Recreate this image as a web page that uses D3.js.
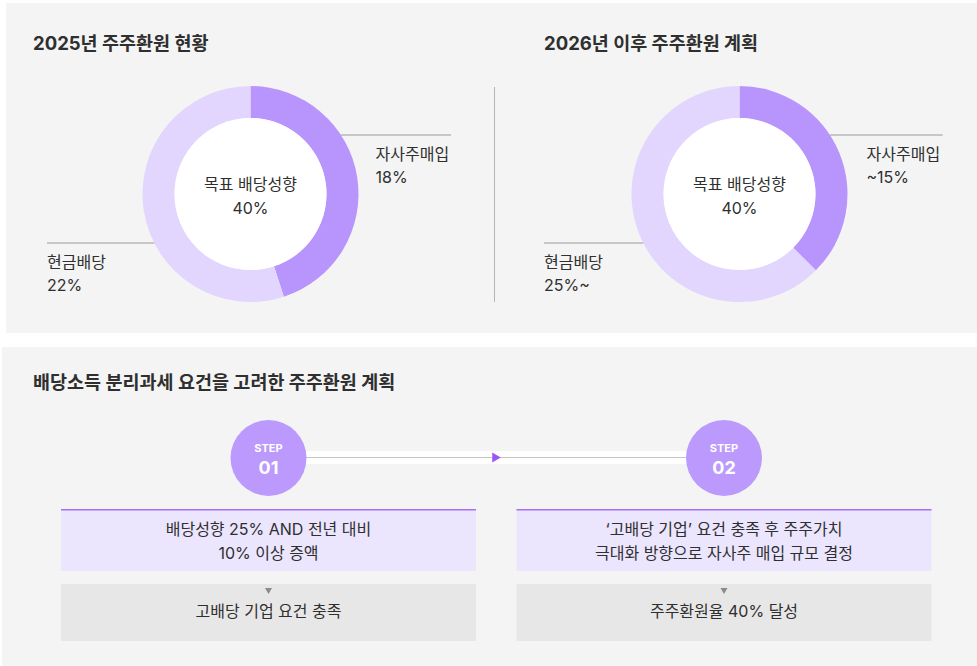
<!DOCTYPE html>
<html lang="ko">
<head>
<meta charset="utf-8">
<script src="https://cdn.jsdelivr.net/npm/d3@7"></script>
<style>
  html, body { margin: 0; padding: 0; background: #ffffff; }
  svg { display: block; font-family: Inter, "Noto Sans CJK KR", "Noto Sans", sans-serif; }
</style>
</head>
<body>
<svg id="chart" width="977" height="666"></svg>
<script>
// ---- data ----
const panelTitles = ["2025년 주주환원 현황", "2026년 이후 주주환원 계획"];
const segmentNames = ["자사주매입", "현금배당"];
const buybackValues = [18, 15];
const cashValues = [22, 25];
const buybackLabels = ["18%", "~15%"];
const cashLabels = ["22%", "25%~"];
const centerTitle = "목표 배당성향";
const targetPayout = ["40%", "40%"];

const planTitle = "배당소득 분리과세 요건을 고려한 주주환원 계획";
const stepNumbers = ["01", "02"];
const stepConditions = [
  ["배당성향 25% AND 전년 대비", "10% 이상 증액"],
  ["‘고배당 기업’ 요건 충족 후 주주가치", "극대화 방향으로 자사주 매입 규모 결정"]
];
const stepResults = ["고배당 기업 요건 충족", "주주환원율 40% 달성"];

// ---- style ----
const C = {
  panel: "#f4f4f4",
  dark: "#b894fd",
  light: "#e2d5fe",
  text: "#2f2f2f",
  leader: "#9a9a9a",
  step: "#bb99fd",
  boxFill: "#ebe5fe",
  boxLine: "#a76ff5",
  resultFill: "#e7e7e7",
  arrow: "#9b55f4"
};

const svg = d3.select("#chart");

// ---- panels ----
svg.append("rect").attr("x", 6).attr("y", 3).attr("width", 971).attr("height", 330).attr("fill", C.panel);
svg.append("rect").attr("x", 2).attr("y", 347).attr("width", 975).attr("height", 319).attr("fill", C.panel);

// ---- donuts ----
const centersX = [250.5, 739.5];
const centerY = 194;
const outerR = 108, innerR = 76;
const titleX = [33, 544];
const cashLabelX = [47, 544];
const buybackLabelX = [375.5, 866.5];
const buybackLineEnd = [451, 942.7];

const pie = d3.pie().sort(null).value(d => d.value);
const arc = d3.arc().innerRadius(innerR).outerRadius(outerR);

// leader lines meet the outer ring at fixed vertical offsets
const buybackDy = -59, cashDy = 49;

panelTitles.forEach((title, i) => {
  const g = svg.append("g");
  g.append("text")
    .attr("x", titleX[i]).attr("y", 50)
    .attr("font-size", 18.5).attr("font-weight", 700)
    .attr("fill", C.text)
    .text(title);

  const data = [
    { name: segmentNames[0], value: buybackValues[i], label: buybackLabels[i], color: C.dark },
    { name: segmentNames[1], value: cashValues[i], label: cashLabels[i], color: C.light }
  ];

  const donut = g.append("g").attr("transform", `translate(${centersX[i]},${centerY})`);
  donut.selectAll("path")
    .data(pie(data))
    .join("path")
    .attr("d", arc)
    .attr("fill", d => d.data.color);
  donut.append("circle").attr("r", innerR).attr("fill", "#ffffff");

  donut.append("text")
    .attr("text-anchor", "middle").attr("y", -4)
    .attr("font-size", 16).attr("fill", C.text)
    .text(centerTitle);
  donut.append("text")
    .attr("text-anchor", "middle").attr("y", 20)
    .attr("font-size", 16).attr("fill", C.text)
    .text(targetPayout[i]);

  // buyback leader (right side)
  const bx = Math.sqrt(outerR * outerR - buybackDy * buybackDy);
  const bEnd = buybackLineEnd[i] - centersX[i];
  donut.append("line")
    .attr("x1", bx).attr("x2", bEnd)
    .attr("y1", buybackDy).attr("y2", buybackDy)
    .attr("stroke", C.leader).attr("stroke-width", 1);
  const bLabel = buybackLabelX[i] - centersX[i];
  donut.append("text")
    .attr("x", bLabel).attr("y", buybackDy + 25)
    .attr("font-size", 16).attr("fill", C.text)
    .text(data[0].name);
  donut.append("text")
    .attr("x", bLabel).attr("y", buybackDy + 48)
    .attr("font-size", 16).attr("fill", C.text)
    .text(data[0].label);

  // cash leader (left side)
  const cx = -Math.sqrt(outerR * outerR - cashDy * cashDy);
  const cStart = cashLabelX[i] - centersX[i];
  donut.append("line")
    .attr("x1", cStart).attr("x2", cx)
    .attr("y1", cashDy).attr("y2", cashDy)
    .attr("stroke", C.leader).attr("stroke-width", 1);
  donut.append("text")
    .attr("x", cStart).attr("y", cashDy + 25)
    .attr("font-size", 16).attr("fill", C.text)
    .text(data[1].name);
  donut.append("text")
    .attr("x", cStart).attr("y", cashDy + 48)
    .attr("font-size", 16).attr("fill", C.text)
    .text(data[1].label);
});

// divider between the two donuts
svg.append("line")
  .attr("x1", 494.5).attr("x2", 494.5).attr("y1", 87).attr("y2", 302)
  .attr("stroke", "#b5b5b5").attr("stroke-width", 1);

// ---- step plan ----
svg.append("text")
  .attr("x", 33).attr("y", 389)
  .attr("font-size", 18.5).attr("font-weight", 700)
  .attr("fill", C.text)
  .text(planTitle);

const stepX = d3.scalePoint().domain(stepNumbers).range([268.5, 724]);
const stepY = 458, stepR = 38;
const boxHalf = 207.5;

// connector band, dotted line and arrow head
svg.append("rect")
  .attr("x", stepX("01")).attr("y", 451)
  .attr("width", stepX("02") - stepX("01")).attr("height", 13)
  .attr("fill", "#ffffff");
svg.append("line")
  .attr("x1", stepX("01") + stepR).attr("x2", stepX("02") - stepR)
  .attr("y1", 457.5).attr("y2", 457.5)
  .attr("stroke", "#8c8c8c").attr("stroke-width", 1)
  .attr("stroke-dasharray", "1 1");
const midX = (stepX("01") + stepX("02")) / 2;
svg.append("path")
  .attr("d", `M${midX - 4},${452.5} L${midX + 4.5},${457.5} L${midX - 4},${462.5} Z`)
  .attr("fill", C.arrow);

stepNumbers.forEach((num, i) => {
  const x = stepX(num);
  svg.append("circle").attr("cx", x).attr("cy", stepY).attr("r", stepR).attr("fill", C.step);
  svg.append("text")
    .attr("x", x).attr("y", 452).attr("text-anchor", "middle")
    .attr("font-size", 11).attr("font-weight", 700).attr("fill", "#ffffff")
    .text("STEP");
  svg.append("text")
    .attr("x", x).attr("y", 474).attr("text-anchor", "middle")
    .attr("font-size", 18).attr("font-weight", 700).attr("fill", "#ffffff")
    .text(num);

  // condition box
  svg.append("rect")
    .attr("x", x - boxHalf).attr("y", 509).attr("width", boxHalf * 2).attr("height", 62)
    .attr("fill", C.boxFill);
  svg.append("rect")
    .attr("x", x - boxHalf).attr("y", 509).attr("width", boxHalf * 2).attr("height", 1.5)
    .attr("fill", C.boxLine);
  stepConditions[i].forEach((line, j) => {
    svg.append("text")
      .attr("x", x).attr("y", 535 + j * 24).attr("text-anchor", "middle")
      .attr("font-size", 16).attr("fill", C.text)
      .text(line);
  });

  // result box
  svg.append("rect")
    .attr("x", x - boxHalf).attr("y", 584).attr("width", boxHalf * 2).attr("height", 57)
    .attr("fill", C.resultFill);
  svg.append("path")
    .attr("d", `M${x - 3.5},${588} L${x + 3.5},${588} L${x},${594} Z`)
    .attr("fill", "#8a8a8a");
  svg.append("text")
    .attr("x", x).attr("y", 617).attr("text-anchor", "middle")
    .attr("font-size", 16).attr("fill", C.text)
    .text(stepResults[i]);
});
</script>
</body>
</html>
